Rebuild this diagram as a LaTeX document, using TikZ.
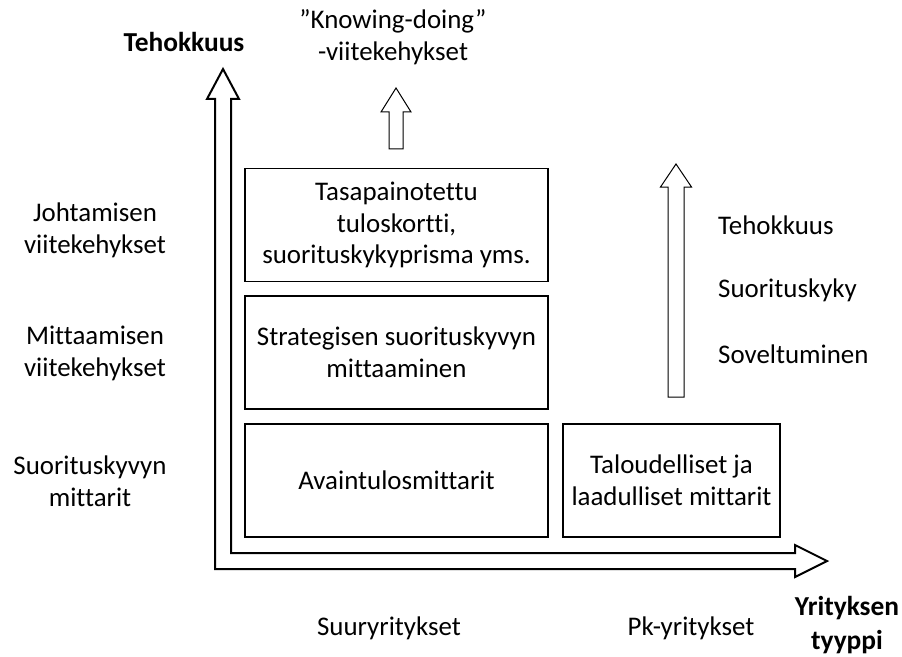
\documentclass[tikz,border=0pt]{standalone}
\usepackage{fontspec}
\setmainfont{Carlito}[Ligatures=NoCommon]
\begin{document}
\begin{tikzpicture}[x=1bp,y=-1bp,
  every node/.style={font=\fontsize{27}{32}\selectfont, align=center, inner sep=0pt},
  level/.style={draw=black, line width=1.8bp, minimum width=303bp, minimum height=113bp},
  blockarrow/.style={draw=black, line width=1bp, fill=white, line join=miter},
  axisarrow/.style={draw=black, line width=2bp, line join=miter},
  sidelabel/.style={anchor=west, align=left},
  heading/.style={font=\fontsize{27.5}{35}\selectfont\bfseries}]
\useasboundingbox (0,0) rectangle (902,657);

% L-shaped double axis arrow
\draw[axisarrow] (223,69) -- (239,99) -- (231,99) -- (231,553) -- (795,553)
  -- (795,545) -- (827,561) -- (795,577) -- (795,569) -- (215,569)
  -- (215,99) -- (207,99) -- cycle;

% framework levels
\node[level] (bsc) at (396.5,225) {Tasapainotettu\\tuloskortti,\\suorituskykyprisma yms.};
\node[level] (spm) at (396.5,352.5) {Strategisen suorituskyvyn\\mittaaminen};
\node[level] (kpi) at (396.5,480.5) {Avaintulosmittarit};
\node[level, minimum width=217bp] (fin) at (671.5,480.5) {Taloudelliset ja\\laadulliset mittarit};

% block arrows
\draw[blockarrow] (396,88) -- (411,112) -- (403,112) -- (403,149) -- (389,149)
  -- (389,112) -- (381,112) -- cycle;
\draw[blockarrow] (676,164) -- (691.5,187) -- (684,187) -- (684,397) -- (668,397)
  -- (668,187) -- (660.5,187) -- cycle;

% axis titles
\node[heading] (ytitle) at (184,42) {Tehokkuus};
\node[heading] (xtitle) at (847,625) {Yrityksen\\tyyppi};
\node (kd) at (393,37.5) {”Knowing-doing”\\-viitekehykset};

% row labels
\node (r1) at (95,230) {Johtamisen\\viitekehykset};
\node (r2) at (95,353) {Mittaamisen\\viitekehykset};
\node (r3) at (90,481) {Suorituskyvyn\\mittarit};

% column labels
\node (c1) at (389,628) {Suuryritykset};
\node (c2) at (691,628) {Pk-yritykset};

% progression labels
\node[sidelabel] (p1) at (718,225) {Tehokkuus};
\node[sidelabel] (p2) at (718,290) {Suorituskyky};
\node[sidelabel] (p3) at (718,354) {Soveltuminen};
\end{tikzpicture}
\end{document}
